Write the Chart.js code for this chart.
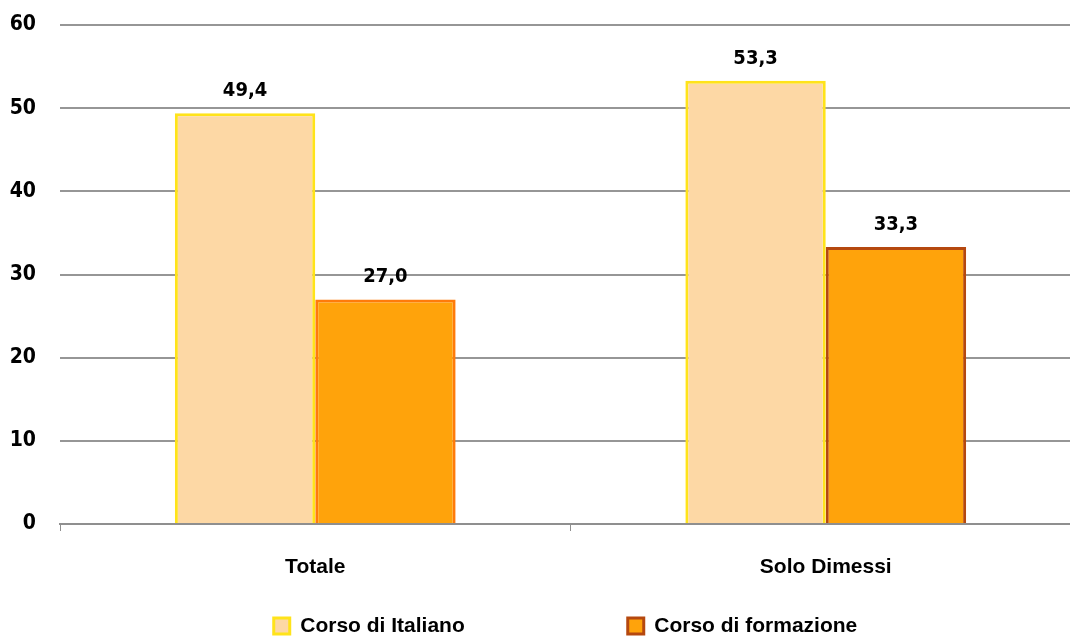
<!DOCTYPE html>
<html>
<head>
<meta charset="utf-8">
<script src="https://cdn.jsdelivr.net/npm/chart.js@4"></script>
<style>
  html, body { margin: 0; padding: 0; background: #fff; overflow: hidden; }
  #wrap { width: 1081px; height: 637px; }
</style>
</head>
<body>
<div id="wrap"><canvas id="c" width="1081" height="637"></canvas></div>
<script>
// Categories and series
const categories = ['Totale', 'Solo Dimessi'];
const seriesNames = ['Corso di Italiano', 'Corso di formazione'];
const italianoValues = [49.4, 53.3];
const formazioneValues = [27.0, 33.3];
const yTicks = [0, 10, 20, 30, 40, 50, 60];

const fmt = v => v.toFixed(1).replace('.', ',');
const numFamily = '"DejaVu Sans Condensed", "DejaVu Sans", sans-serif';

// Value labels above every bar
const valueLabels = {
  id: 'valueLabels',
  afterDatasetsDraw(chart) {
    const ctx = chart.ctx;
    ctx.save();
    ctx.font = 'bold 20px ' + numFamily;
    ctx.fillStyle = '#000';
    ctx.textAlign = 'center';
    ctx.textBaseline = 'alphabetic';
    chart.data.datasets.forEach((ds, di) => {
      chart.getDatasetMeta(di).data.forEach((bar, i) => {
        ctx.fillText(fmt(ds.data[i]), bar.x, bar.y - 17);
      });
    });
    ctx.restore();
  }
};

// Place the legend row near the bottom edge and shift it right
const legendPlacement = {
  id: 'legendPlacement',
  beforeDraw(chart) {
    const lg = chart.legend;
    if (!lg) return;
    const pad = lg.options.labels.padding;
    const itemH = 21;
    const centerY = chart.height - 11;
    lg.top = centerY - itemH / 2 - pad;
    lg.left += 25;
    lg.right += 25;
  }
};

new Chart(document.getElementById('c'), {
  type: 'bar',
  data: {
    labels: categories,
    datasets: [
      {
        label: seriesNames[0],
        data: italianoValues,
        backgroundColor: '#FDD8A5',
        borderColor: '#FFE31A',
        borderWidth: 3
      },
      {
        label: seriesNames[1],
        data: formazioneValues,
        backgroundColor: '#FFA30B',
        borderColor: ['#FF7B0A', '#B5480F'],
        borderWidth: 3
      }
    ]
  },
  options: {
    responsive: false,
    animation: false,
    layout: { padding: { top: 25, left: 0, right: 0, bottom: 0 } },
    datasets: {
      bar: { categoryPercentage: 0.55, barPercentage: 1.0 }
    },
    scales: {
      x: {
        grid: {
          offset: true,
          drawOnChartArea: false,
          drawTicks: true,
          tickLength: 7,
          color: '#8f8f8f',
          lineWidth: 1
        },
        border: { display: true, color: '#8f8f8f', width: 2 },
        ticks: {
          color: '#000',
          padding: 24,
          font: { family: '"Liberation Sans", sans-serif', weight: 'bold', size: 21 }
        },
        afterFit(scale) { scale.height = 70; }
      },
      y: {
        min: 0,
        max: 60,
        afterBuildTicks(scale) { scale.ticks = yTicks.map(v => ({ value: v })); },
        grid: {
          drawTicks: false,
          color: '#969696',
          lineWidth: 2
        },
        border: { display: false },
        ticks: {
          color: '#000',
          padding: 24,
          font: { family: numFamily, weight: 'bold', size: 21 }
        },
        afterFit(scale) {
          scale.width = 60;
          scale.paddingTop = 12;
          scale.paddingBottom = 12;
        }
      }
    },
    plugins: {
      tooltip: { enabled: false },
      legend: {
        position: 'bottom',
        maxHeight: 43,
        labels: {
          boxWidth: 16,
          boxHeight: 16,
          padding: 163,
          color: '#000',
          font: { family: '"Liberation Sans", sans-serif', weight: 'bold', size: 21 },
          generateLabels(chart) {
            const items = Chart.defaults.plugins.legend.labels.generateLabels(chart);
            items[0].strokeStyle = '#FFE31A';
            items[1].strokeStyle = '#B5480F';
            items.forEach(it => { it.lineWidth = 3; });
            return items;
          }
        }
      }
    }
  },
  plugins: [valueLabels, legendPlacement]
});
</script>
</body>
</html>
